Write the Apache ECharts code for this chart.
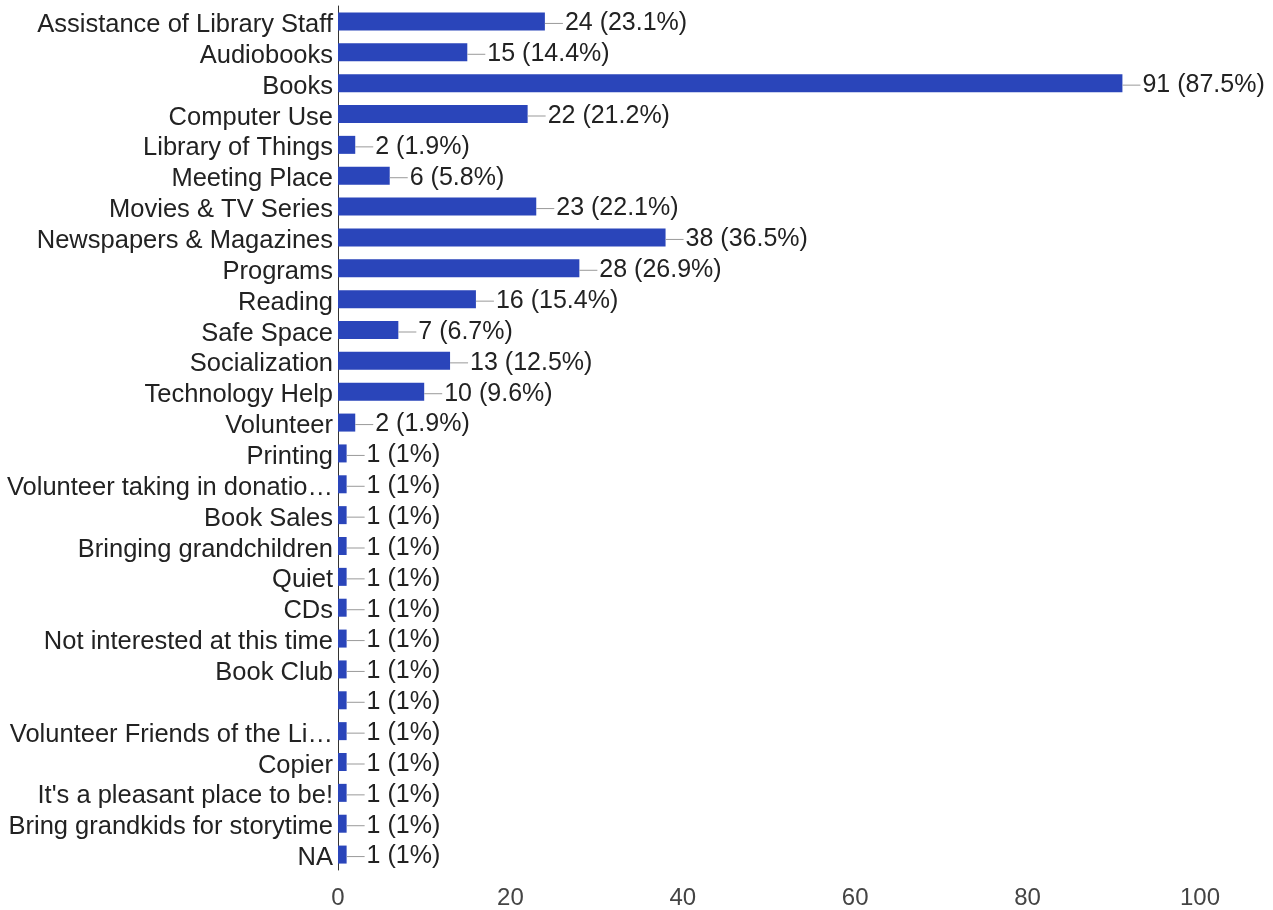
<!DOCTYPE html>
<html>
<head>
<meta charset="utf-8">
<script src="https://cdn.jsdelivr.net/npm/echarts@6/dist/echarts.min.js"></script>
<style>
  html, body { margin: 0; padding: 0; background: #fff; }
  #chart { width: 1273px; height: 910px; }
</style>
</head>
<body>
<div id="chart"></div>
<script>
const categories = [
  "Assistance of Library Staff", "Audiobooks", "Books", "Computer Use",
  "Library of Things", "Meeting Place", "Movies & TV Series",
  "Newspapers & Magazines", "Programs", "Reading", "Safe Space",
  "Socialization", "Technology Help", "Volunteer", "Printing",
  "Volunteer taking in donatio\u2026", "Book Sales", "Bringing grandchildren",
  "Quiet", "CDs", "Not interested at this time", "Book Club", "",
  "Volunteer Friends of the Li\u2026", "Copier", "It's a pleasant place to be!",
  "Bring grandkids for storytime", "NA"
];
const counts = [24, 15, 91, 22, 2, 6, 23, 38, 28, 16, 7, 13, 10, 2,
  1, 1, 1, 1, 1, 1, 1, 1, 1, 1, 1, 1, 1, 1];
const percents = ["23.1%", "14.4%", "87.5%", "21.2%", "1.9%", "5.8%", "22.1%",
  "36.5%", "26.9%", "15.4%", "6.7%", "12.5%", "9.6%", "1.9%",
  "1%", "1%", "1%", "1%", "1%", "1%", "1%", "1%", "1%", "1%", "1%", "1%", "1%", "1%"];
const xTicks = [0, 20, 40, 60, 80, 100];

const chart = echarts.init(document.getElementById("chart"));
const font = "Liberation Sans, Arial, sans-serif";

const option = {
  animation: false,
  grid: { left: 338, right: 73, top: 6, bottom: 40, containLabel: false },
  xAxis: {
    type: "value",
    min: xTicks[0],
    max: xTicks[xTicks.length - 1],
    interval: 20,
    axisLine: { show: false },
    axisTick: { show: false },
    splitLine: { show: false },
    axisLabel: { color: "#444", fontSize: 24, fontFamily: font, margin: 16 }
  },
  yAxis: {
    type: "category",
    data: categories,
    inverse: true,
    axisLine: { show: true, lineStyle: { color: "#333", width: 1 } },
    axisTick: { show: false },
    axisLabel: {
      color: "#222", fontSize: 25.5, fontFamily: font, margin: 5, interval: 0,
      verticalAlign: "top", lineHeight: 7
    }
  },
  series: [{
    type: "bar",
    data: counts,
    barWidth: 18,
    itemStyle: { color: "#2a45ba" },
    label: {
      show: true,
      position: "right",
      distance: 0,
      offset: [0, 2],
      formatter: p => "{l|}{t|" + p.value + " (" + percents[p.dataIndex] + ")}",
      rich: {
        l: { width: 18, height: 1, backgroundColor: "#999" },
        t: { color: "#222", fontSize: 25, fontFamily: font, padding: [0, 0, 0, 2] }
      }
    }
  }]
};
chart.setOption(option);
</script>
</body>
</html>
